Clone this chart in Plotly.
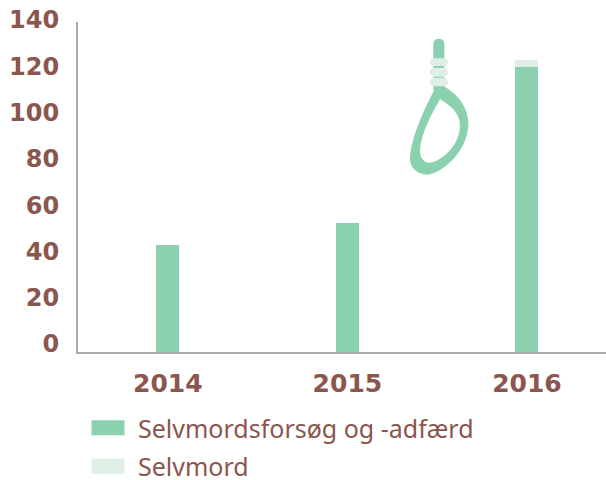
import plotly.graph_objects as go

years = ["2014", "2015", "2016"]
attempts = [45.3, 54.6, 120.9]
suicides = [0, 0, 3]
y_ticks = [0, 20, 40, 60, 80, 100, 120, 140]
attempts_name = "Selvmordsforsøg og -adfærd"
suicides_name = "Selvmord"

GREEN = "#8BD0AF"
PALE = "#E0EFE6"
TEXT = "#8B564E"
AXIS = "#ABABAB"
W, H = 606, 480
L, R, T, B = 78, 0, 10, 128
PLOT_H = H - T - B
BAR_TOP_PX = 22  # top of the visible axis line

fig = go.Figure()
fig.add_bar(x=years, y=attempts, name=attempts_name, marker_color=GREEN, marker_line_width=0,
            width=0.128, legendgroup="a")
fig.add_bar(x=years, y=suicides, name=suicides_name, marker_color=PALE, marker_line_width=0,
            width=0.128, legendgroup="b")
# carrier for the tick-label axis, whose labels sit slightly off the bar scale in the original
fig.add_scatter(x=years, y=attempts, yaxis="y2", mode="lines", line=dict(width=0),
                showlegend=False, hoverinfo="skip")


def px(x, y):
    return (x - L) / (W - L - R), 1 - (y - T) / PLOT_H


def z(x, y):
    a, b = px(400 + x / 3, 30 + y / 3)
    return f"{a:.5f},{b:.5f}"


def path(start, curves):
    s = "M" + z(*start)
    for c in curves:
        s += " C" + " ".join(z(*p) for p in c)
    return s + " Z"


def rrect(x0, y0, x1, y1, r):
    k = r * 0.45
    return (
        "M" + z(x0 + r, y0) + " L" + z(x1 - r, y0)
        + " C" + z(x1 - k, y0) + " " + z(x1, y0 + k) + " " + z(x1, y0 + r)
        + " L" + z(x1, y1 - r)
        + " C" + z(x1, y1 - k) + " " + z(x1 - k, y1) + " " + z(x1 - r, y1)
        + " L" + z(x0 + r, y1)
        + " C" + z(x0 + k, y1) + " " + z(x0, y1 - k) + " " + z(x0, y1 - r)
        + " L" + z(x0, y0 + r)
        + " C" + z(x0, y0 + k) + " " + z(x0 + k, y0) + " " + z(x0 + r, y0) + " Z"
    )


shapes = []


def add(d, fill):
    shapes.append(dict(type="path", xref="paper", yref="paper", path=d, fillcolor=fill,
                       line=dict(width=0), layer="above"))


# noose decoration
add(rrect(100, 27, 133, 190, 14), GREEN)
add(path((103, 180), [
    [(60, 260), (30, 340), (30, 390)],
    [(35, 430), (75, 435), (85, 434)],
    [(120, 430), (205, 370), (205, 280)],
    [(205, 230), (170, 190), (133, 170)],
    [(125, 165), (110, 165), (103, 180)],
]), GREEN)
add(path((120, 208), [
    [(95, 250), (60, 320), (60, 365)],
    [(62, 395), (85, 400), (90, 398)],
    [(120, 395), (180, 350), (180, 285)],
    [(180, 250), (150, 225), (120, 208)],
]), "#FFFFFF")
add(rrect(89, 85, 144, 108, 11), PALE)
add(rrect(89, 113, 144, 140, 13), PALE)
add(rrect(89, 143, 144, 169, 13), PALE)

y_font = dict(family="DejaVu Sans", size=24, color=TEXT, weight="bold")
x_font = dict(family="DejaVu Sans", size=25, color=TEXT, weight="bold")

fig.update_layout(
    width=W, height=H, autosize=False,
    margin=dict(l=L, r=R, t=T, b=B, pad=0),
    paper_bgcolor="white", plot_bgcolor="rgba(0,0,0,0)",
    barmode="stack",
    shapes=shapes,
    font=dict(family="Noto Sans", color=TEXT),
    xaxis=dict(type="category", range=[-0.5, 2.44], showline=True, linecolor=AXIS, linewidth=1.5,
               showgrid=False, ticks="outside", ticklen=8, tickcolor="rgba(0,0,0,0)",
               tickfont=x_font, zeroline=False, tickangle=0),
    yaxis=dict(domain=[0, (H - B - BAR_TOP_PX) / PLOT_H], range=[0, 140], showline=True, linecolor=AXIS,
               linewidth=1.5, showgrid=False, showticklabels=False, ticks="", zeroline=False),
    yaxis2=dict(domain=[0, 1], anchor="x", side="left", range=[-3.46, 144.3], tickmode="array",
                tickvals=y_ticks, ticktext=[str(v) for v in y_ticks], showgrid=False, zeroline=False,
                showline=False, ticks="outside", ticklen=13, tickcolor="rgba(0,0,0,0)",
                tickfont=y_font),
    legend=dict(xref="paper", yref="container", x=0, y=1 - 405 / H, xanchor="left", yanchor="top",
                traceorder="grouped", tracegroupgap=3, itemwidth=50,
                font=dict(family="Noto Sans", size=25, color=TEXT), bgcolor="rgba(0,0,0,0)"),
    showlegend=True,
)

post = """
document.body.style.margin='0';
document.querySelectorAll('.legendfill, .legendbar path, .legendpoints path').forEach(function(p){
  if(p.getAttribute('d')==='M6,6H-6V-6H6Z'){p.setAttribute('d','M16.5,7.5H-16.5V-7.5H16.5Z');}
});
"""
fig.write_html("out.html", post_script=post, config={"displayModeBar": False})
